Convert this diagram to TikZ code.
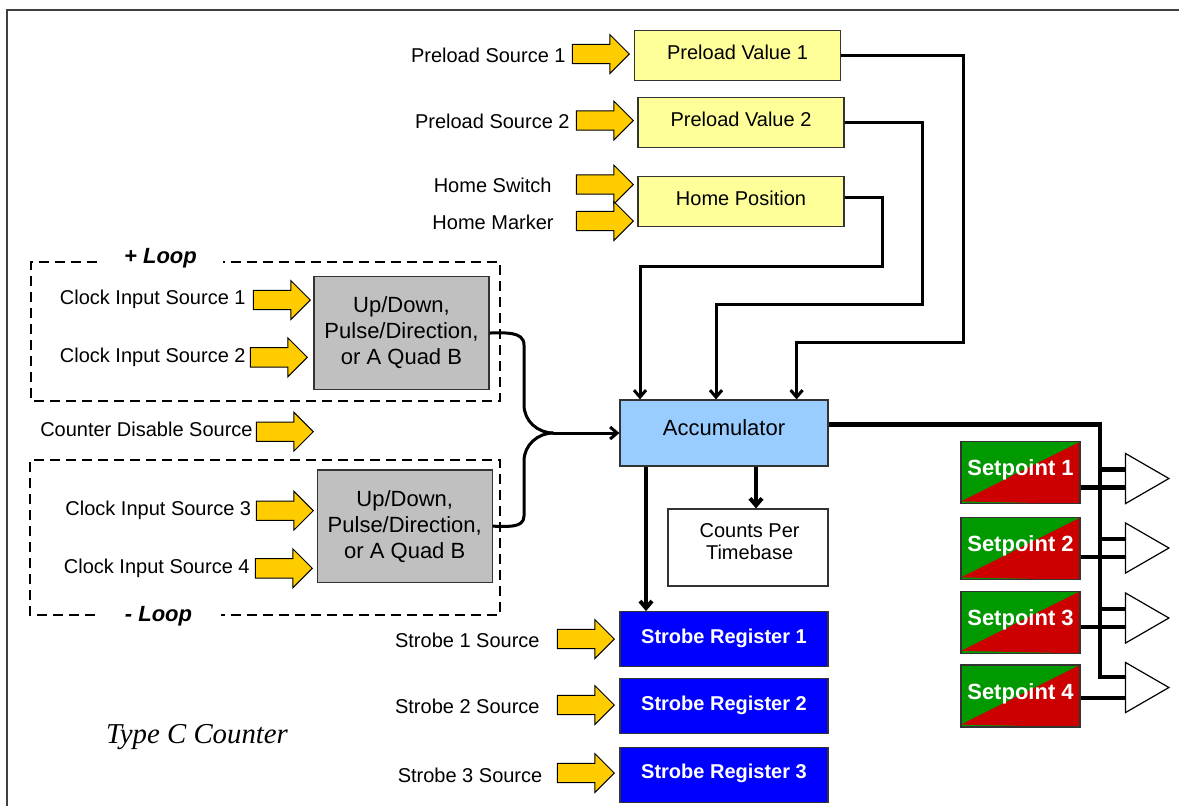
\documentclass[tikz,border=0pt]{standalone}
\usepackage{fontspec}
\setmainfont{Liberation Sans}
\newfontfamily\titleserif{Liberation Serif}
\usepackage{tikz}
\usetikzlibrary{calc,arrows.meta,shapes.arrows,shapes.geometric}
\definecolor{presetfill}{HTML}{FFFF99}
\definecolor{srcyellow}{HTML}{FFCC00}
\definecolor{udgray}{HTML}{C0C0C0}
\definecolor{accblue}{HTML}{99CCFF}
\definecolor{strobeblue}{HTML}{0000FF}
\definecolor{spgreen}{HTML}{009900}
\definecolor{spred}{HTML}{CC0000}
\tikzset{
  frame/.style={draw=black!75, line width=0.8pt},
  srcarrow/.style={single arrow, draw=black, line width=0.5pt, fill=srcyellow,
    inner xsep=0pt, inner ysep=4.6pt, minimum height=28.5pt,
    single arrow head extend=4.9pt, anchor=tip},
  srclab/.style={anchor=east, inner sep=0pt, text height=7.2pt, text depth=0pt,
    font=\fontsize{10}{12}\selectfont},
  box/.style={draw=black!80, line width=0.6pt, inner sep=0pt},
  preset/.style={box, fill=presetfill, minimum width=103pt, minimum height=25pt,
    text height=7.2pt, text depth=3pt, font=\fontsize{10}{12}\selectfont},
  udbox/.style={box, fill=udgray, minimum width=87.5pt, minimum height=56.3pt,
    align=center, font=\fontsize{11}{13}\selectfont},
  accbox/.style={box, fill=accblue, minimum width=104pt, minimum height=33pt,
    text height=8pt, text depth=6pt, font=\fontsize{11}{13}\selectfont},
  cptbox/.style={box, fill=white, minimum width=80pt, minimum height=38.5pt},
  strobebox/.style={box, fill=strobeblue, text=white, minimum width=104pt,
    minimum height=27.5pt, text height=7.2pt, text depth=3pt,
    font=\fontsize{10}{12}\selectfont\bfseries},
  spbox/.style={box, fill=spgreen, text=white, minimum width=59.5pt,
    minimum height=31pt, text height=8pt, text depth=5pt,
    font=\fontsize{11}{13}\selectfont\bfseries,
    path picture={\fill[spred] ([yshift=1.2pt]path picture bounding box.south west)
      -- (path picture bounding box.north east)
      -- (path picture bounding box.south east) -- cycle;}},
  amp/.style={regular polygon, regular polygon sides=3, shape border rotate=-90,
    draw=black, line width=0.6pt, fill=white, minimum size=28.9pt, inner sep=0pt},
  loopbox/.style={draw=black, line width=0.9pt, dash pattern=on 5pt off 3pt},
  looplab/.style={inner sep=0pt, font=\fontsize{11}{13}\selectfont\bfseries\itshape},
  route/.style={draw=black, line width=1.5pt, -{Straight Barb[length=3.5pt,width=6pt]}},
  thickroute/.style={route, line width=2pt},
  curve/.style={draw=black, line width=1.5pt},
  busline/.style={draw=black, line width=2.2pt}
}

\begin{document}
\begin{tikzpicture}[x=0.5pt, y=-0.5pt]
  \useasboundingbox (0,0) rectangle (1179,805);
  \draw[frame] (7,820) -- (7,10) -- (1190,10);

  % preload and home inputs
  \node[preset] (pv1) at (737.5,55.7) {Preload Value 1};
  \node[preset] (pv2) at (741,122.5) {Preload Value 2};
  \node[preset] (hp) at (741,201.5) {Home Position};
  \node[srclab] (ps1-lab) at (566,55) {Preload Source 1};
  \node[srclab] (ps2-lab) at (570,121.7) {Preload Source 2};
  \node[srclab] (hs-lab) at (552,185.7) {Home Switch};
  \node[srclab] (hm-lab) at (554,222.7) {Home Marker};
  \node[srcarrow] (ps1-arr) at (630,54) {};
  \node[srcarrow] (ps2-arr) at (634,120.5) {};
  \node[srcarrow] (hs-arr) at (634,184.5) {};
  \node[srcarrow] (hm-arr) at (634,221) {};

  % loops
  \draw[loopbox] (97,262) -- (31,262) -- (31,401) -- (500,401) -- (500,262) -- (223,262);
  \node[looplab] (plus-loop) at (160.5,258) {+ Loop};
  \draw[loopbox] (95,615) -- (30,615) -- (30,460) -- (500,460) -- (500,615) -- (221,615);
  \node[looplab] (minus-loop) at (158.5,616) {- Loop};

  \node[udbox] (ud1) at (401.5,333) {Up/Down,\\Pulse/Direction,\\or A Quad B};
  \node[udbox] (ud2) at (404.75,526.2) {Up/Down,\\Pulse/Direction,\\or A Quad B};
  \node[srclab] (cis1-lab) at (246,297) {Clock Input Source 1};
  \node[srclab] (cis2-lab) at (246,355.3) {Clock Input Source 2};
  \node[srclab] (cds-lab) at (253,429.3) {Counter Disable Source};
  \node[srclab] (cis3-lab) at (251.5,508.3) {Clock Input Source 3};
  \node[srclab] (cis4-lab) at (250,566) {Clock Input Source 4};
  \node[srcarrow] (cis1-arr) at (311,300) {};
  \node[srcarrow] (cis2-arr) at (308,357.3) {};
  \node[srcarrow] (cds-arr) at (314,431.7) {};
  \node[srcarrow] (cis3-arr) at (314,510.7) {};
  \node[srcarrow] (cis4-arr) at (313,568.3) {};

  % accumulator and outputs
  \node[accbox] (acc) at (724,433) {Accumulator};
  \node[cptbox] (cpt) at (748,547.5) {};
  \node[align=center, font=\fontsize{10}{11}\selectfont] (cpt-text) at (749.6,541.7)
    {Counts Per\\Timebase};
  \node[strobebox] (sr1) at (724,639.2) {Strobe Register 1};
  \node[strobebox] (sr2) at (724,706.2) {Strobe Register 2};
  \node[strobebox] (sr3) at (724,774.7) {Strobe Register 3};
  \node[srclab] (s1-lab) at (540,640) {Strobe 1 Source};
  \node[srclab] (s2-lab) at (540,706.7) {Strobe 2 Source};
  \node[srclab] (s3-lab) at (542.7,775) {Strobe 3 Source};
  \node[srcarrow] (s1-arr) at (615,639) {};
  \node[srcarrow] (s2-arr) at (615,705) {};
  \node[srcarrow] (s3-arr) at (615,773) {};

  \node[font=\titleserif\itshape\fontsize{14.4}{17}\selectfont] (title) at (197,737)
    {Type C Counter};

  % routes into the accumulator
  \coordinate (t1) at ([xshift=36.3pt]acc.north);
  \coordinate (t2) at ([xshift=-4pt]acc.north);
  \coordinate (t3) at ([xshift=-42pt]acc.north);
  \draw[route] (pv1.east) -| (963,342) -| (t1);
  \draw[route] (pv2.east) -| (922,304) -| (t2);
  \draw[route] ([yshift=2pt]hp.east) -| (882,266) -| (t3);

  \coordinate (join) at ([xshift=-33pt]acc.west);
  \draw[curve] (ud1.east) to[out=0,in=90] (524,345) -- (524,405) to[out=-90,in=180] (join);
  \draw[curve] (ud2.east) to[out=0,in=-90] (524,516) -- (524,461) to[out=90,in=180] (join);
  \draw[route] (join) -- (acc.west);

  \coordinate (a1) at ([xshift=-39pt]acc.south);
  \draw[thickroute] (a1) -- (a1 |- sr1.north);
  \coordinate (a2) at ([xshift=16pt]acc.south);
  \draw[thickroute] (a2) -- (a2 |- cpt.north);

  % setpoints
  \node[spbox] (sp1) at (1020.5,472.8) {Setpoint 1};
  \node[spbox] (sp2) at (1020.5,548.8) {Setpoint 2};
  \node[spbox] (sp3) at (1020.5,622.3) {Setpoint 3};
  \node[spbox] (sp4) at (1020.5,696) {Setpoint 4};
  \node[amp] (amp1) at (1140,478.5) {};
  \node[amp] (amp2) at (1140,548) {};
  \node[amp] (amp3) at (1140,618) {};
  \node[amp] (amp4) at (1140,687.5) {};
  \coordinate (in1a) at ($(amp1.corner 2)!0.33!(amp1.corner 3)$);
  \coordinate (in1b) at ($(amp1.corner 2)!0.67!(amp1.corner 3)$);
  \coordinate (in2a) at ($(amp2.corner 2)!0.33!(amp2.corner 3)$);
  \coordinate (in2b) at ($(amp2.corner 2)!0.67!(amp2.corner 3)$);
  \coordinate (in3a) at ($(amp3.corner 2)!0.33!(amp3.corner 3)$);
  \coordinate (in3b) at ($(amp3.corner 2)!0.67!(amp3.corner 3)$);
  \coordinate (in4a) at ($(amp4.corner 2)!0.3!(amp4.corner 3)$);
  \coordinate (in4b) at ($(amp4.corner 2)!0.7!(amp4.corner 3)$);

  \coordinate (bus) at (1100,424);
  \draw[busline] ([yshift=4.3pt]acc.east) -| (bus |- in4a) -- (in4a);
  \draw[busline] (bus |- in1a) -- (in1a);
  \draw[busline] (bus |- in2a) -- (in2a);
  \draw[busline] (bus |- in3a) -- (in3a);
  \draw[busline] (sp1.east |- in1b) -- (in1b);
  \draw[busline] (sp2.east |- in2b) -- (in2b);
  \draw[busline] (sp3.east |- in3b) -- (in3b);
  \draw[busline] (sp4.east |- in4b) -- (in4b);
\end{tikzpicture}
\end{document}
